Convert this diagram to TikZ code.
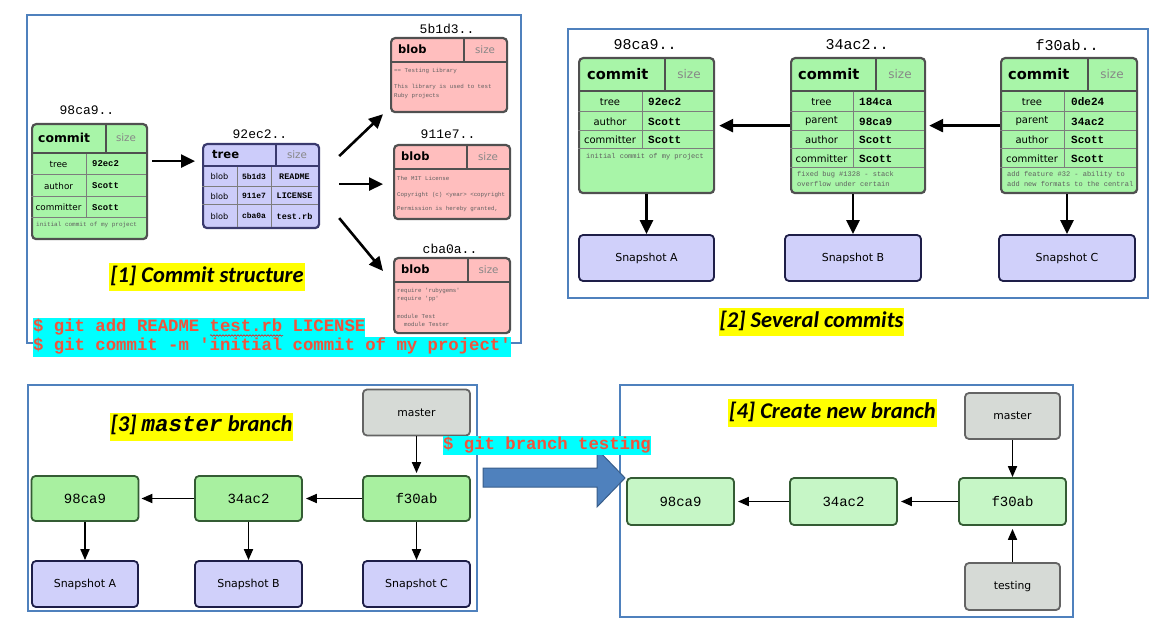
\documentclass[tikz,border=0pt]{standalone}
\usepackage{fontspec}
\setmainfont{Carlito}
\setsansfont{DejaVu Sans}
\setmonofont{Liberation Mono}
\usetikzlibrary{arrows.meta,decorations.pathmorphing}

\definecolor{frameblue}{RGB}{79,129,189}
\definecolor{arrowedge}{RGB}{56,93,138}
\definecolor{cmdred}{RGB}{240,84,60}
\definecolor{cmdcyan}{RGB}{0,255,255}
\definecolor{hlyellow}{RGB}{255,255,0}
\definecolor{commitgreen}{RGB}{168,245,168}
\definecolor{nodegreen}{RGB}{168,240,160}
\definecolor{lightgreen}{RGB}{198,246,198}
\definecolor{greenedge}{RGB}{52,92,52}
\definecolor{treeblue}{RGB}{204,204,250}
\definecolor{treeedge}{RGB}{58,58,110}
\definecolor{blobpink}{RGB}{255,190,190}
\definecolor{snapblue}{RGB}{208,208,250}
\definecolor{snapedge}{RGB}{30,30,72}
\definecolor{refgray}{RGB}{214,218,214}
\definecolor{refedge}{RGB}{100,100,100}
\definecolor{tabedge}{RGB}{80,80,80}
\definecolor{gridgray}{RGB}{125,125,125}
\definecolor{sizegray}{RGB}{135,135,135}
\definecolor{msggray}{RGB}{95,95,95}

\newcommand\fsz[1]{\fontsize{#1}{#1}\selectfont}

\tikzset{
  panel/.style={draw=frameblue, line width=2.5pt},
  tab/.style={draw=tabedge, line width=2.2pt, rounded corners=4pt, anchor=north west, inner sep=0pt},
  commitbox/.style={tab, fill=commitgreen},
  treebox/.style={tab, fill=treeblue, draw=treeedge},
  blobbox/.style={tab, fill=blobpink},
  headline/.style={draw=tabedge, line width=1.6pt},
  cell/.style={draw=gridgray, line width=1pt},
  hash/.style={font=\ttfamily\fsz{#1}, text=black, inner sep=0pt},
  head/.style={font=\sffamily\bfseries\fsz{#1}, anchor=west, inner sep=0pt},
  sizetxt/.style={font=\sffamily\fsz{#1}, text=sizegray, inner sep=0pt},
  lab/.style={font=\sffamily\fsz{#1}, inner sep=0pt},
  val/.style={font=\ttfamily\bfseries\fsz{#1}, anchor=west, inner sep=0pt},
  msg/.style={font=\ttfamily\fsz{#1}, text=msggray, anchor=west, inner sep=0pt},
  title/.style={fill=hlyellow, font=\rmfamily\bfseries\itshape\fsz{22.5}, inner xsep=1pt, inner ysep=3pt, text height=16pt, text depth=6pt},
  cmd/.style={fill=cmdcyan, text=cmdred, font=\ttfamily\bfseries\fsz{17.3}, anchor=west, inner sep=0pt, text height=13.5pt, text depth=6pt},
  arr/.style={line width=2.6pt, -{Triangle[length=14pt,width=13pt]}},
  thinarr/.style={line width=1.8pt, -{Triangle[length=11pt,width=9pt]}},
  gitnode/.style={rounded corners=4pt, line width=1.8pt, inner sep=0pt},
  com/.style={gitnode, draw=greenedge, fill=#1, minimum width=107pt, minimum height=45pt, font=\ttfamily\fsz{14}},
  branchref/.style={gitnode, draw=refedge, fill=refgray, minimum height=46pt, font=\sffamily\fsz{10.8}},
  snap/.style={gitnode, draw=snapedge, fill=snapblue, minimum height=46pt, font=\sffamily\fsz{11}},
  bigarrow/.style={fill=frameblue, draw=arrowedge, line width=1pt}
}

\begin{document}
\begin{tikzpicture}[x=1pt,y=-1pt]
\useasboundingbox (0,0) rectangle (1161,636);

% frames
\draw[panel] (27,15) rectangle (521,343);
\draw[panel] (568,29) rectangle (1148,298);
\draw[panel] (28,385) rectangle (477,611);
\draw[panel] (620,385) rectangle (1073,617);

% [1] commit structure
\node[hash=13] (h1c) at (87,110) {98ca9..};
\node[commitbox, minimum width=115pt, minimum height=115pt] (c1) at (31,123) {};
\draw[cell] (31,175) -- (146,175) (31,197) -- (146,197) (31,218) -- (146,218) (86,153) -- (86,218);
\draw[headline] (31,153) -- (146,153) (106,123) -- (106,153);
\node[head=12.4] (c1-head) at (38,138) {commit};
\node[sizetxt=10.3] (c1-size) at (126,138) {size};
\node[lab=8.8] (c1-l1) at (58.5,164) {tree};
\node[lab=8.8] (c1-l2) at (58.5,186) {author};
\node[lab=8.8] (c1-l3) at (58.5,207.5) {committer};
\node[val=8.9] (c1-v1) at (92,164) {92ec2};
\node[val=8.9] (c1-v2) at (92,186) {Scott};
\node[val=8.9] (c1-v3) at (92,207.5) {Scott};
\node[msg=6] (c1-msg) at (36,225) {initial commit of my project};

\node[hash=13] (h1t) at (260,134) {92ec2..};
\node[treebox, minimum width=116pt, minimum height=84pt] (tr) at (202,143) {};
\draw[cell] (202,187) -- (318,187) (202,205) -- (318,205) (237,166) -- (237,227) (271,166) -- (271,227);
\draw[headline, draw=treeedge] (202,166) -- (318,166) (276,143) -- (276,166);
\node[head=11.6] (tr-head) at (212,154.5) {tree};
\node[sizetxt=10.3] (tr-size) at (297,154.5) {size};
\node[lab=8.2] (tr-l1) at (219.5,176.5) {blob};
\node[lab=8.2] (tr-l2) at (219.5,196) {blob};
\node[lab=8.2] (tr-l3) at (219.5,216) {blob};
\node[val=8, anchor=center] (tr-h1) at (254,176.5) {5b1d3};
\node[val=8, anchor=center] (tr-h2) at (254,196) {911e7};
\node[val=8, anchor=center] (tr-h3) at (254,216) {cba0a};
\node[val=8.5, anchor=center] (tr-n1) at (294.5,176.5) {README};
\node[val=8.5, anchor=center] (tr-n2) at (294.5,196) {LICENSE};
\node[val=8.5, anchor=center] (tr-n3) at (294.5,216) {test.rb};

\node[hash=13] (h1b1) at (447,29) {5b1d3..};
\node[blobbox, minimum width=116pt, minimum height=74pt] (bl1) at (390,37) {};
\draw[headline] (390,62) -- (506,62) (464,37) -- (464,62);
\node[head=11.5] (bl1-head) at (398,49.5) {blob};
\node[sizetxt=10.3] (bl1-size) at (485,49.5) {size};
\node[msg=5.8] (bl1-t1) at (394,71) {== Testing Library};
\node[msg=5.8] (bl1-t2) at (394,87) {This library is used to test};
\node[msg=5.8] (bl1-t3) at (394,96) {Ruby projects};

\node[hash=13] (h1b2) at (448,134) {911e7..};
\node[blobbox, minimum width=116pt, minimum height=74pt] (bl2) at (393,144) {};
\draw[headline] (393,169) -- (509,169) (467,144) -- (467,169);
\node[head=11.5] (bl2-head) at (401,156.5) {blob};
\node[sizetxt=10.3] (bl2-size) at (488,156.5) {size};
\node[msg=5.8] (bl2-t1) at (397,178) {The MIT License};
\node[msg=5.8] (bl2-t2) at (397,195) {Copyright (c) <year> <copyright};
\node[msg=5.8] (bl2-t3) at (397,209) {Permission is hereby granted,};

\node[hash=13] (h1b3) at (450,249) {cba0a..};
\node[blobbox, minimum width=116pt, minimum height=75pt] (bl3) at (393,257) {};
\draw[headline] (393,282) -- (509,282) (468,257) -- (468,282);
\node[head=11.5] (bl3-head) at (401,269.5) {blob};
\node[sizetxt=10.3] (bl3-size) at (488.5,269.5) {size};
\node[msg=5.8] (bl3-t1) at (397,291) {require 'rubygems'};
\node[msg=5.8] (bl3-t2) at (397,299) {require 'pp'};
\node[msg=5.8] (bl3-t3) at (397,316) {module Test};
\node[msg=5.8] (bl3-t4) at (397,324) {\ \ module Tester};

\draw[arr] ([xshift=4pt,yshift=20.5pt]c1.east) -- ([xshift=-7pt,yshift=25pt]tr.west);
\draw[arr] ([xshift=19pt,yshift=30pt]tr.east) -- ([xshift=-7pt,yshift=-1pt]bl1.south west);
\draw[arr] ([xshift=19pt,yshift=2pt]tr.east) -- ([xshift=-10pt,yshift=-2pt]bl2.west);
\draw[arr] ([xshift=19pt,yshift=-32pt]tr.east) -- ([xshift=-10pt,yshift=-14pt]bl3.north west);

\node[title] (t1) at (207,277) {[1] Commit structure};

% [2] several commits
\node[hash=15] (h2a) at (645,45) {98ca9..};
\node[commitbox, minimum width=135pt, minimum height=135pt] (c2a) at (578,57) {};
\draw[cell] (578,112) -- (713,112) (578,131) -- (713,131) (578,149) -- (713,149) (642,91) -- (642,149);
\draw[headline] (578,91) -- (713,91) (665,57) -- (665,91);
\node[head=14.6] (c2a-head) at (587,74) {commit};
\node[sizetxt=12] (c2a-size) at (689,74) {size};
\node[lab=10] (c2a-l1) at (610,102) {tree};
\node[lab=10] (c2a-l2) at (610,121.5) {author};
\node[lab=10] (c2a-l3) at (610,140) {committer};
\node[val=11] (c2a-v1) at (648,102) {92ec2};
\node[val=11] (c2a-v2) at (648,121.5) {Scott};
\node[val=11] (c2a-v3) at (648,140) {Scott};
\node[msg=7] (c2a-msg) at (586,157) {initial commit of my project};

\node[hash=15] (h2b) at (857,45) {34ac2..};
\node[commitbox, minimum width=134pt, minimum height=135pt] (c2b) at (790,57) {};
\draw[cell] (790,112) -- (924,112) (790,131) -- (924,131) (790,149) -- (924,149) (790,168) -- (924,168) (853,91) -- (853,168);
\draw[headline] (790,91) -- (924,91) (876,57) -- (876,91);
\node[head=14.6] (c2b-head) at (798,74) {commit};
\node[sizetxt=12] (c2b-size) at (900,74) {size};
\node[lab=10] (c2b-l1) at (821.5,102) {tree};
\node[lab=10] (c2b-l2) at (821.5,121.5) {parent};
\node[lab=10] (c2b-l3) at (821.5,140) {author};
\node[lab=10] (c2b-l4) at (821.5,159) {committer};
\node[val=11] (c2b-v1) at (859,102) {184ca};
\node[val=11] (c2b-v2) at (859,121.5) {98ca9};
\node[val=11] (c2b-v3) at (859,140) {Scott};
\node[val=11] (c2b-v4) at (859,159) {Scott};
\node[msg=7] (c2b-m1) at (797,175) {fixed bug \#1328 - stack};
\node[msg=7] (c2b-m2) at (797,184) {overflow under certain};

\node[hash=15] (h2c) at (1067,45) {f30ab..};
\node[commitbox, minimum width=136pt, minimum height=135pt] (c2c) at (1000,57) {};
\draw[cell] (1000,112) -- (1136,112) (1000,131) -- (1136,131) (1000,149) -- (1136,149) (1000,168) -- (1136,168) (1064,91) -- (1064,168);
\draw[headline] (1000,91) -- (1136,91) (1088,57) -- (1088,91);
\node[head=14.6] (c2c-head) at (1008,74) {commit};
\node[sizetxt=12] (c2c-size) at (1112,74) {size};
\node[lab=10] (c2c-l1) at (1032,102) {tree};
\node[lab=10] (c2c-l2) at (1032,121.5) {parent};
\node[lab=10] (c2c-l3) at (1032,140) {author};
\node[lab=10] (c2c-l4) at (1032,159) {committer};
\node[val=11] (c2c-v1) at (1071,102) {0de24};
\node[val=11] (c2c-v2) at (1071,121.5) {34ac2};
\node[val=11] (c2c-v3) at (1071,140) {Scott};
\node[val=11] (c2c-v4) at (1071,159) {Scott};
\node[msg=7] (c2c-m1) at (1007,175) {add feature \#32 - ability to};
\node[msg=7] (c2c-m2) at (1007,184) {add new formats to the central};

\node[snap, minimum width=135pt] (s2a) at (646.5,258) {Snapshot A};
\node[snap, minimum width=136pt] (s2b) at (853,258) {Snapshot B};
\node[snap, minimum width=136pt] (s2c) at (1067,258) {Snapshot C};

\draw[arr] (c2b.west) -- ([xshift=4pt]c2a.east);
\draw[arr] (c2c.west) -- ([xshift=3pt]c2b.east);
\draw[arr] (s2a.north |- c2a.south) -- (s2a.north);
\draw[arr] (s2b.north |- c2b.south) -- (s2b.north);
\draw[arr] (s2c.north |- c2c.south) -- (s2c.north);

\node[title] (t2) at (811.5,322) {[2] Several commits};

% [3] master branch
\node[branchref, minimum width=107pt] (m3) at (416.5,412.5) {master};
\node[com=nodegreen] (f3) at (416.5,498.5) {f30ab};
\node[com=nodegreen] (b3) at (248.5,498.5) {34ac2};
\node[com=nodegreen] (a3) at (85,498.5) {98ca9};
\node[snap, minimum width=106pt] (s3a) at (85,584) {Snapshot A};
\node[snap, minimum width=107pt] (s3b) at (248.5,584) {Snapshot B};
\node[snap, minimum width=107pt] (s3c) at (416.5,584) {Snapshot C};
\draw[thinarr, shorten >=2pt] (m3) -- (f3);
\draw[thinarr, shorten >=3pt] (f3) -- (b3);
\draw[thinarr, shorten >=2pt] (b3) -- (a3);
\draw[thinarr] (a3) -- (s3a);
\draw[thinarr] (b3) -- (s3b);
\draw[thinarr] (f3) -- (s3c);
\node[title] (t3) at (201.5,426.5) {[3] {\ttfamily master} branch};

% [4] create new branch
\node[branchref, minimum width=95pt] (m4) at (1012.5,416) {master};
\node[com=lightgreen, minimum height=47pt] (f4) at (1012.5,501.5) {f30ab};
\node[com=lightgreen, minimum height=47pt] (b4) at (843.5,501.5) {34ac2};
\node[com=lightgreen, minimum height=47pt] (a4) at (680.5,501.5) {98ca9};
\node[branchref, minimum width=95pt, minimum height=47pt] (tst) at (1012.5,586.5) {testing};
\draw[thinarr] (m4) -- (f4);
\draw[thinarr, shorten >=3pt] (f4) -- (b4);
\draw[thinarr, shorten >=3pt] (b4) -- (a4);
\draw[thinarr, shorten >=3pt] (tst) -- (f4);
\node[title] (t4) at (832.5,413) {[4] Create new branch};

% commands
\draw[bigarrow] (483,468) -- (597,468) -- (597,449) -- (625,478) -- (597,507) -- (597,487) -- (483,487) -- cycle;
\node[cmd] (cmd1) at (33,327.5) {\$ git add README test.rb LICENSE};
\node[cmd] (cmd2) at (33,347) {\$ git commit -m 'initial commit of my project'};
\draw[red, line width=0.5pt, decorate, decoration={snake, amplitude=0.8pt, segment length=3pt}] (210,335.5) -- (283,335.5);
\node[cmd] (cmd3) at (443,445.5) {\$ git branch testing};
\end{tikzpicture}
\end{document}
